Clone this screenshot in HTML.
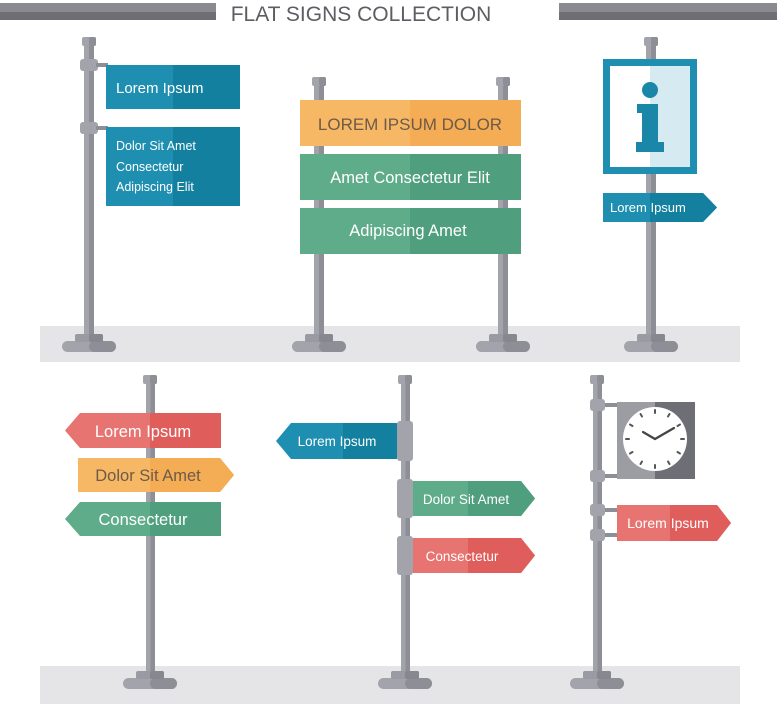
<!DOCTYPE html>
<html><head><meta charset="utf-8"><style>
html,body{margin:0;padding:0;background:#fff}
svg{display:block}
text{font-family:"Liberation Sans",sans-serif}
</style></head><body>
<svg width="777" height="704" viewBox="0 0 777 704" xmlns="http://www.w3.org/2000/svg">
<defs>
<g id="base">
<rect x="-27" y="0" width="54" height="11" rx="5.5" fill="#a3a3ab"/>
<rect x="0" y="0" width="27" height="11" rx="5.5" fill="#8e8e97"/>
<rect x="-14" y="-7" width="28" height="8" rx="2" fill="#9a9aa2"/>
<rect x="0" y="-7" width="14" height="8" rx="2" fill="#878790"/>
</g>
<g id="cap">
<rect x="-7" y="0" width="14" height="9" rx="2" fill="#a3a3ab"/>
<rect x="0" y="0" width="7" height="9" rx="2" fill="#8e8e97"/>
</g>
</defs>

<!-- header bars -->
<rect x="0" y="3" width="216" height="17" fill="#8a8a90"/>
<rect x="0" y="12" width="216" height="8" fill="#6e6e75"/>
<rect x="559" y="3" width="218" height="17" fill="#8a8a90"/>
<rect x="559" y="12" width="218" height="8" fill="#6e6e75"/>
<text x="361" y="21" font-size="21" fill="#5d5d63" text-anchor="middle">FLAT SIGNS COLLECTION</text>

<!-- floors -->
<rect x="40" y="326" width="700" height="36" fill="#e5e5e7"/>
<rect x="40" y="666" width="700" height="38" fill="#e5e5e7"/>

<!-- ===== TOP LEFT ===== -->
<rect x="84" y="44" width="10" height="300" fill="#a3a3ab"/>
<rect x="89" y="44" width="5" height="300" fill="#8e8e97"/>
<use href="#cap" x="89" y="37"/>
<rect x="80" y="59" width="18" height="12" rx="3" fill="#a3a3ab"/>
<rect x="80" y="122" width="18" height="12" rx="3" fill="#a3a3ab"/>
<rect x="96" y="63" width="12" height="4" fill="#8e8e97"/>
<rect x="96" y="126" width="12" height="4" fill="#8e8e97"/>
<use href="#base" x="89" y="341"/>
<rect x="106" y="65" width="134" height="44" fill="#1e8fb0"/>
<rect x="173" y="65" width="67" height="44" fill="#13809f"/>
<text x="116" y="93" font-size="15" fill="#fff">Lorem Ipsum</text>
<rect x="106" y="127" width="134" height="79" fill="#1e8fb0"/>
<rect x="173" y="127" width="67" height="79" fill="#13809f"/>
<text x="116" y="150" font-size="12.5" fill="#fff">Dolor Sit Amet</text>
<text x="116" y="171" font-size="12.5" fill="#fff">Consectetur</text>
<text x="116" y="191" font-size="12.5" fill="#fff">Adipiscing Elit</text>

<!-- ===== TOP MIDDLE ===== -->
<rect x="314" y="84" width="10" height="260" fill="#a3a3ab"/>
<rect x="319" y="84" width="5" height="260" fill="#8e8e97"/>
<use href="#cap" x="319" y="77"/>
<use href="#base" x="319" y="341"/>
<rect x="498" y="84" width="10" height="260" fill="#a3a3ab"/>
<rect x="503" y="84" width="5" height="260" fill="#8e8e97"/>
<use href="#cap" x="503" y="77"/>
<use href="#base" x="503" y="341"/>
<rect x="300" y="100" width="221" height="46" fill="#f7b866"/>
<rect x="410" y="100" width="111" height="46" fill="#f4ad55"/>
<text x="410" y="130" font-size="17" fill="#6d5a48" text-anchor="middle">LOREM IPSUM DOLOR</text>
<rect x="300" y="154" width="221" height="46" fill="#5fac8a"/>
<rect x="410" y="154" width="111" height="46" fill="#4f9f7e"/>
<text x="410" y="183" font-size="16.5" fill="#fff" text-anchor="middle">Amet Consectetur Elit</text>
<rect x="300" y="208" width="221" height="46" fill="#5fac8a"/>
<rect x="410" y="208" width="111" height="46" fill="#4f9f7e"/>
<text x="408" y="236" font-size="16.5" fill="#fff" text-anchor="middle">Adipiscing Amet</text>

<!-- ===== TOP RIGHT ===== -->
<rect x="646" y="44" width="10" height="300" fill="#a3a3ab"/>
<rect x="651" y="44" width="5" height="300" fill="#8e8e97"/>
<use href="#cap" x="651" y="37"/>
<use href="#base" x="651" y="341"/>
<rect x="603" y="59" width="94" height="115" fill="#1e8fb0"/>
<rect x="610" y="66" width="80" height="101" fill="#fff"/>
<rect x="650" y="66" width="40" height="101" fill="#d6eaf2"/>
<circle cx="650" cy="90" r="8" fill="#1a87a8"/>
<path d="M637 104 H658 V142 H664 V152 H636 V142 H642 V113 H637 Z" fill="#1a87a8"/>
<path d="M603 193 H703 L717 207.5 L703 222 H603 Z" fill="#1e8fb0"/>
<path d="M650 193 H703 L717 207.5 L703 222 H650 Z" fill="#13809f"/>
<text x="610" y="212" font-size="13" fill="#fff">Lorem Ipsum</text>

<!-- ===== BOTTOM LEFT ===== -->
<rect x="146" y="383" width="9" height="300" fill="#a3a3ab"/>
<rect x="150.5" y="383" width="4.5" height="300" fill="#8e8e97"/>
<use href="#cap" x="150" y="375"/>
<use href="#base" x="150" y="678"/>
<path d="M80 413 H221 V448 H80 L65 430.5 Z" fill="#e77471"/>
<path d="M150 413 H221 V448 H150 Z" fill="#df5e5b"/>
<text x="143" y="437" font-size="16.5" fill="#fff" text-anchor="middle">Lorem Ipsum</text>
<path d="M78 458 H220 L234 475 L220 492 H78 Z" fill="#f7b866"/>
<path d="M150 458 H220 L234 475 L220 492 H150 Z" fill="#f4ad55"/>
<text x="148" y="481" font-size="16.5" fill="#6d5a48" text-anchor="middle">Dolor Sit Amet</text>
<path d="M80 502 H221 V536 H80 L65 519 Z" fill="#5fac8a"/>
<path d="M150 502 H221 V536 H150 Z" fill="#4f9f7e"/>
<text x="143" y="525" font-size="16.5" fill="#fff" text-anchor="middle">Consectetur</text>

<!-- ===== BOTTOM MIDDLE ===== -->
<rect x="401" y="383" width="9" height="300" fill="#a3a3ab"/>
<rect x="405.5" y="383" width="4.5" height="300" fill="#8e8e97"/>
<use href="#cap" x="405" y="375"/>
<use href="#base" x="405" y="678"/>
<path d="M291 423 H397 V459 H291 L276 441 Z" fill="#1e8fb0"/>
<path d="M343 423 H397 V459 H343 Z" fill="#13809f"/>
<text x="337" y="446" font-size="13.5" fill="#fff" text-anchor="middle">Lorem Ipsum</text>
<path d="M413 481 H521 L535 498.5 L521 516 H413 Z" fill="#5fac8a"/>
<path d="M468 481 H521 L535 498.5 L521 516 H468 Z" fill="#4f9f7e"/>
<text x="466" y="504" font-size="13.5" fill="#fff" text-anchor="middle">Dolor Sit Amet</text>
<path d="M413 538 H521 L535 555.5 L521 573 H413 Z" fill="#e77471"/>
<path d="M468 538 H521 L535 555.5 L521 573 H468 Z" fill="#df5e5b"/>
<text x="462" y="561" font-size="13.5" fill="#fff" text-anchor="middle">Consectetur</text>
<rect x="397" y="421" width="16" height="40" rx="3" fill="#a3a3ab"/>
<rect x="397" y="479" width="16" height="39" rx="3" fill="#a3a3ab"/>
<rect x="397" y="536" width="16" height="39" rx="3" fill="#a3a3ab"/>

<!-- ===== BOTTOM RIGHT ===== -->
<rect x="593" y="383" width="9" height="300" fill="#a3a3ab"/>
<rect x="597.5" y="383" width="4.5" height="300" fill="#8e8e97"/>
<use href="#cap" x="597" y="375"/>
<use href="#base" x="597" y="678"/>
<rect x="600" y="403" width="17" height="4" fill="#8e8e97"/>
<rect x="600" y="474" width="17" height="4" fill="#8e8e97"/>
<rect x="600" y="508" width="17" height="4" fill="#8e8e97"/>
<rect x="600" y="533" width="17" height="4" fill="#8e8e97"/>
<rect x="590" y="399" width="15" height="12" rx="3" fill="#a3a3ab"/>
<rect x="590" y="470" width="15" height="12" rx="3" fill="#a3a3ab"/>
<rect x="590" y="504" width="15" height="12" rx="3" fill="#a3a3ab"/>
<rect x="590" y="529" width="15" height="12" rx="3" fill="#a3a3ab"/>
<rect x="617" y="402" width="78" height="77" fill="#9c9ca3"/>
<rect x="655" y="402" width="40" height="77" fill="#6e6e76"/>
<circle cx="655" cy="439" r="32" fill="#fff"/>
<g stroke="#555" stroke-width="2" stroke-linecap="round">
<line x1="655" y1="410" x2="655" y2="413"/><line x1="655" y1="465" x2="655" y2="468"/>
<line x1="626" y1="439" x2="629" y2="439"/><line x1="681" y1="439" x2="684" y2="439"/>
<line x1="640.5" y1="414" x2="642" y2="416.5"/><line x1="669.5" y1="414" x2="668" y2="416.5"/>
<line x1="630" y1="424.5" x2="632.5" y2="426"/><line x1="680" y1="424.5" x2="677.5" y2="426"/>
<line x1="630" y1="453.5" x2="632.5" y2="452"/><line x1="680" y1="453.5" x2="677.5" y2="452"/>
<line x1="640.5" y1="464" x2="642" y2="461.5"/><line x1="669.5" y1="464" x2="668" y2="461.5"/>
</g>
<g stroke="#444" stroke-width="2.2" stroke-linecap="round">
<line x1="655" y1="439" x2="643" y2="432"/><line x1="655" y1="439" x2="674" y2="428"/>
</g>
<path d="M617 505 H717 L731 523 L717 541 H617 Z" fill="#e77471"/>
<path d="M670 505 H717 L731 523 L717 541 H670 Z" fill="#df5e5b"/>
<text x="668" y="528" font-size="14" fill="#fff" text-anchor="middle">Lorem Ipsum</text>
</svg>
</body></html>
